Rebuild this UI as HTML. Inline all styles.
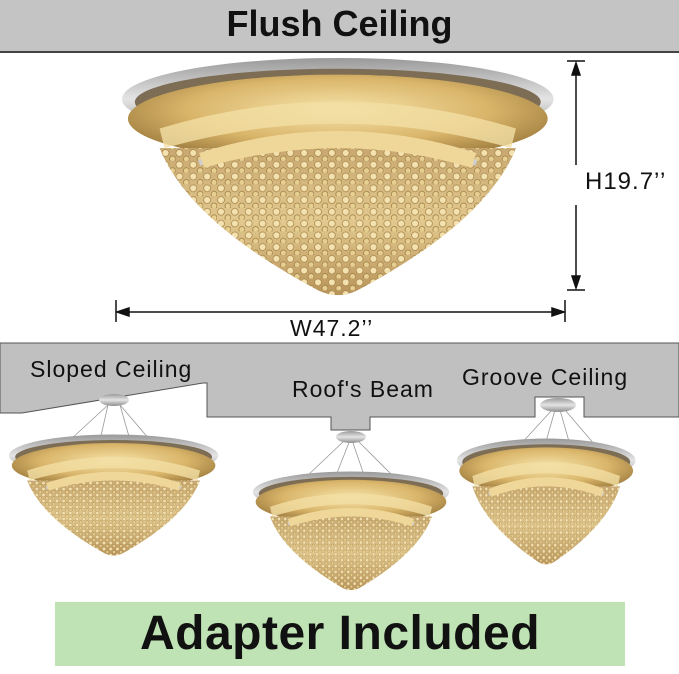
<!DOCTYPE html>
<html><head><meta charset="utf-8"><style>
html,body{margin:0;padding:0;background:#fff;}
body{width:679px;height:674px;position:relative;overflow:hidden;font-family:"Liberation Sans","DejaVu Sans",sans-serif;}
.t{position:absolute;white-space:nowrap;color:#111;}
.s{font-size:23px;letter-spacing:1px;}
</style></head><body>
<svg width="679" height="674" style="position:absolute;left:0;top:0">
<defs>
<linearGradient id="silver" x1="0" y1="0" x2="0" y2="1">
<stop offset="0" stop-color="#9a9a9a"/><stop offset="0.5" stop-color="#e4e4e4"/><stop offset="1" stop-color="#8e8e8e"/></linearGradient>
<radialGradient id="gold" cx="0.5" cy="0.4" r="0.6">
<stop offset="0" stop-color="#f6e3a8"/><stop offset="0.6" stop-color="#d9b56a"/><stop offset="1" stop-color="#9c7a3c"/></radialGradient>
<linearGradient id="cone" x1="0" y1="0" x2="0" y2="1">
<stop offset="0" stop-color="#c8a870"/><stop offset="0.5" stop-color="#e2c98f"/><stop offset="1" stop-color="#b8945a"/></linearGradient>
<pattern id="dots" width="14" height="12" patternUnits="userSpaceOnUse">
<circle cx="4" cy="4" r="3.5" fill="#f3e2b0" stroke="#a78448" stroke-width="0.8"/>
<circle cx="11" cy="10" r="3" fill="#e7cf92" stroke="#9b7a40" stroke-width="0.8"/></pattern>
<g id="ch">
<ellipse cx="220" cy="45" rx="218" ry="42" fill="url(#silver)"/>
<ellipse cx="220" cy="48" rx="205" ry="34" fill="#7d6d55"/>
<ellipse cx="220" cy="65" rx="212" ry="45" fill="url(#gold)"/>
<path d="M40 75 Q220 20 400 75 L395 95 Q220 45 45 95Z" fill="#f2dea4" opacity="0.8"/>
<path d="M40 95 Q70 170 200 240 Q220 250 240 240 Q370 170 400 95Z" fill="url(#cone)"/>
<path d="M40 95 Q70 170 200 240 Q220 250 240 240 Q370 170 400 95Z" fill="url(#dots)"/>
<path d="M80 110 Q220 60 360 110" fill="none" stroke="#cfcfcf" stroke-width="6"/>
<path d="M80 100 Q220 55 360 100 L355 115 Q220 75 85 115Z" fill="#efd79a"/>
</g>
</defs>
<rect x="0" y="0" width="679" height="52" fill="#c4c4c4"/>
<rect x="0" y="51" width="679" height="2" fill="#444"/>
<path d="M0 343 L679 343 L679 417 L584 417 L584 397 L535 397 L535 417 L370 417 L370 430 L331 430 L331 417 L207 417 L207 383 L203 383 L22 413 L0 413Z" fill="#c0c0c0" stroke="#555" stroke-width="1"/>
<use href="#ch" transform="translate(120,55) scale(0.99,0.98)"/>
<g stroke="#111" stroke-width="1.5" fill="#111">
<line x1="567" y1="61" x2="585" y2="61"/><line x1="567" y1="290" x2="585" y2="290"/>
<line x1="576" y1="64" x2="576" y2="165"/><line x1="576" y1="205" x2="576" y2="287"/>
<path d="M576 63 L572 75 L580 75Z"/><path d="M576 288 L572 276 L580 276Z"/>
<line x1="116" y1="300" x2="116" y2="322"/><line x1="565" y1="300" x2="565" y2="322"/>
<line x1="118" y1="312" x2="563" y2="312"/>
<path d="M117 312 L129 308 L129 316Z"/><path d="M564 312 L552 308 L552 316Z"/>
</g>
<g stroke="#999" stroke-width="0.8">
<line x1="108" y1="405" x2="70" y2="440"/><line x1="108" y1="405" x2="100" y2="440"/><line x1="120" y1="405" x2="130" y2="440"/><line x1="120" y1="405" x2="150" y2="440"/>
<line x1="345" y1="440" x2="305" y2="478"/><line x1="350" y1="440" x2="335" y2="478"/><line x1="352" y1="440" x2="365" y2="478"/><line x1="357" y1="440" x2="395" y2="478"/>
<line x1="552" y1="410" x2="520" y2="445"/><line x1="555" y1="410" x2="545" y2="445"/><line x1="560" y1="410" x2="570" y2="445"/><line x1="565" y1="410" x2="595" y2="445"/>
</g>
<ellipse cx="114" cy="400" rx="15" ry="6" fill="url(#silver)"/>
<ellipse cx="351" cy="437" rx="15" ry="6" fill="url(#silver)"/>
<ellipse cx="558" cy="405" rx="18" ry="7" fill="url(#silver)"/>
<use href="#ch" transform="translate(8,433) scale(0.48,0.50)"/>
<use href="#ch" transform="translate(252,470) scale(0.45,0.49)"/>
<use href="#ch" transform="translate(456,437) scale(0.41,0.52)"/>
<rect x="55" y="602" width="570" height="64" fill="#bfe3b4"/>
</svg>
<div class="t" style="left:0;width:679px;text-align:center;top:3px;font-size:36px;font-weight:bold;">Flush Ceiling</div>
<div class="t s" style="left:585px;top:168px;font-size:24px;">H19.7’’</div>
<div class="t s" style="left:290px;top:315px;">W47.2’’</div>
<div class="t s" style="left:30px;top:356px;">Sloped Ceiling</div>
<div class="t s" style="left:292px;top:376px;">Roof's Beam</div>
<div class="t s" style="left:462px;top:364px;">Groove Ceiling</div>
<div class="t" style="left:55px;width:570px;text-align:center;top:606px;font-size:48px;font-weight:bold;letter-spacing:0.5px;">Adapter Included</div>
</body></html>
